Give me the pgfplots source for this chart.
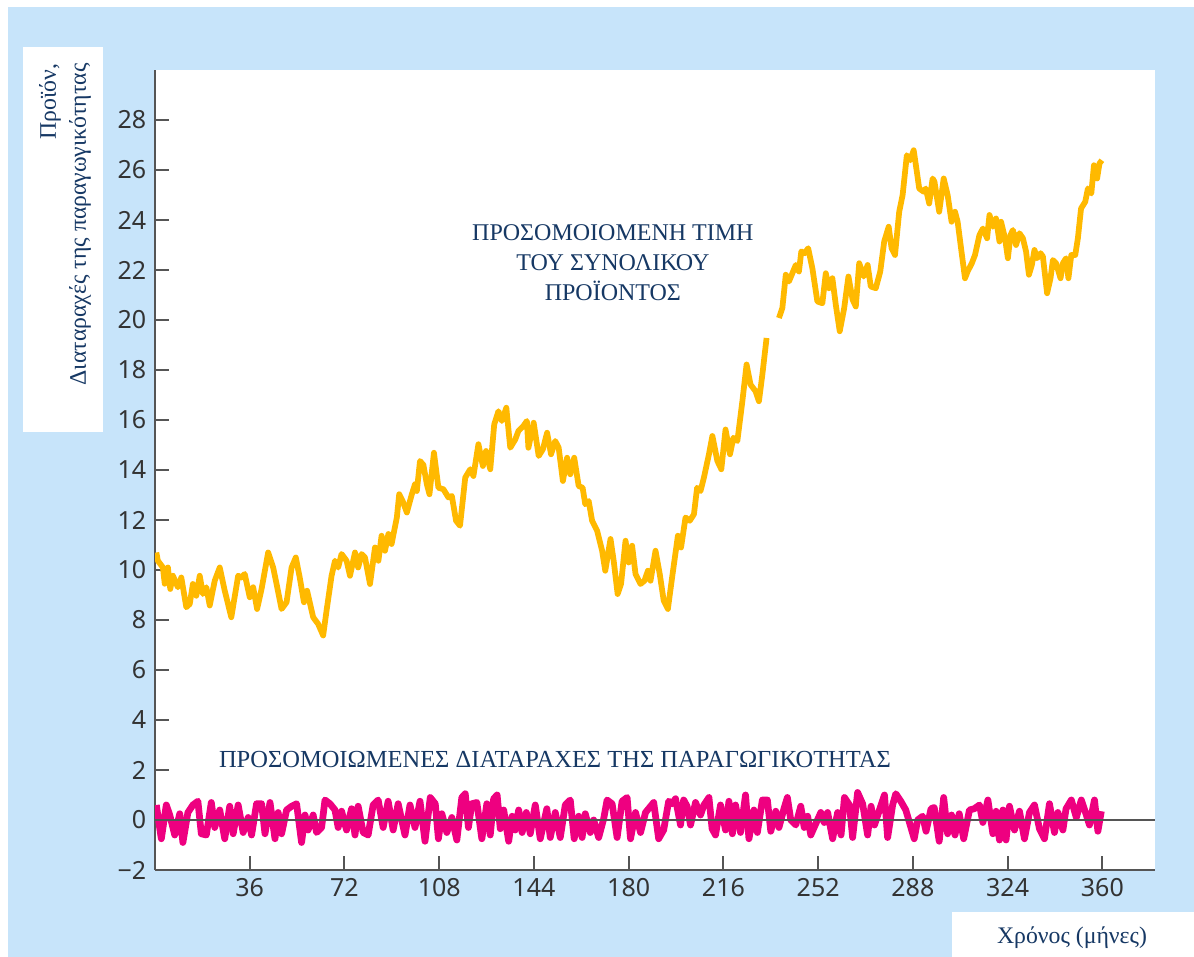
\documentclass[border=0pt]{standalone}
\usepackage{pgfplots}
\pgfplotsset{compat=1.18}
\usepackage{fontspec}
\setmainfont{Liberation Serif}
\newfontfamily\ticksans{Noto Sans}
\definecolor{bgblue}{RGB}{199,228,250}
\definecolor{txtblue}{RGB}{22,56,100}
\definecolor{prodorange}{RGB}{255,185,0}
\definecolor{shockpink}{RGB}{238,0,128}
\definecolor{axisgray}{RGB}{85,85,85}

\begin{document}
\begin{tikzpicture}
\useasboundingbox (0,0) rectangle (477.6pt,382.8pt);
\fill[white] (0,0) rectangle (477.6pt,382.8pt);
\fill[bgblue] (3.2pt,0) rectangle (477.6pt,380pt);
% label boxes
\fill[white] (9.2pt,210pt) rectangle (41.2pt,364pt);
\fill[white] (380.8pt,0) rectangle (477.6pt,18pt);
\node[rotate=90, align=right, text=txtblue, font=\fontsize{9.5}{12}\selectfont, inner sep=0pt]
  at (26pt,293pt) {Προϊόν,\\Διαταραχές της παραγωγικότητας};
\node[text=txtblue, font=\fontsize{9.5}{12}\selectfont, inner sep=0pt]
  at (428.8pt,7.6pt) {Χρόνος (μήνες)};

\begin{axis}[
  at={(62pt,34.8pt)}, anchor=south west,
  scale only axis, width=400pt, height=320pt,
  xmin=0, xmax=380, ymin=-2, ymax=30,
  axis lines*=left,
  axis line style={axisgray, line width=1pt},
  axis background/.style={fill=white},
  tick align=inside, major tick length=5.6pt,
  tick style={axisgray, line width=0.8pt},
  xtick={36,72,108,144,180,216,252,288,324,360},
  xticklabels={36,72,108,144,180,216,252,288,324,360},
  ytick={-2,0,2,4,6,8,10,12,14,16,18,20,22,24,26,28},
  yticklabels={−2,0,2,4,6,8,10,12,14,16,18,20,22,24,26,28},
  ticklabel style={font=\ticksans\fontsize{10}{12}\selectfont, text=black!80},
  unbounded coords=jump,
]
% simulated productivity shocks
\addplot[shockpink, line width=2.7pt, line join=round] coordinates {
(0.5,0.6)(2.4,-0.75)(4.3,0.6)(5.6,0.2)(7.5,-0.6)(9.4,0.25)(10.6,-0.9)(12.5,0.3)(14.4,0.6)(16.3,0.75)
(17.6,-0.55)(19.5,-0.6)(21.4,0.7)(22.7,-0.3)(24.6,0.4)(26.5,-0.75)(28.4,0.55)(29.7,-0.55)(31.6,0.6)(33.5,-0.5)
(35.4,0.1)(36.7,-0.6)(38.6,0.65)(40.5,0.65)(41.8,-0.55)(43.7,0.7)(45.6,-0.75)(46.8,0.3)(48.1,-0.55)(50,0.4)
(51.9,0.55)(53.8,0.65)(55.7,-0.9)(57,0.2)(58.2,-0.4)(60.1,0.2)(61.4,-0.5)(63.3,-0.3)(64.6,0.8)(66.5,0.65)
(68.4,0.4)(69.6,-0.3)(70.9,0.35)(72.8,-0.4)(74.7,0.45)(76,-0.6)(77.2,0.55)(79.1,-0.5)(81,-0.6)(82.9,0.6)
(84.8,0.8)(86.7,-0.3)(88.6,0.75)(90.5,-0.4)(92.4,0.65)(95,-0.6)(96.9,0.6)(98.8,-0.3)(100.7,0.75)(102.6,-0.85)
(104.6,0.9)(106.5,0.65)(107.7,-0.75)(109,0.25)(110.9,-0.5)(112.8,0.1)(114.7,-0.8)(116.6,0.9)(117.9,1.05)(119.1,-0.3)
(120.4,0.65)(122.3,0.7)(124.2,-0.75)(126.1,0.65)(127.4,-0.6)(128.7,0.85)(130,1.0)(131.2,-0.35)(132.5,0.4)(134.4,-0.85)
(135.7,0.15)(136.9,-0.4)(138.2,0.4)(139.5,-0.5)(141.1,0.3)(142.6,-0.55)(144.5,0.6)(146.4,-0.75)(148.9,0.45)(150.2,-0.7)
(152.1,0.3)(154,-0.7)(155.9,0.6)(157.8,0.8)(159.3,-0.75)(161,0.15)(162.3,-0.7)(163.5,0.25)(165.4,-0.5)(166.7,0.0)
(168.6,-0.7)(170.5,0.05)(171.8,0.8)(173.7,0.65)(175.6,-0.7)(177.5,0.75)(179.4,0.9)(180.7,-0.75)(182.6,0.3)(184.5,-0.5)
(186.4,0.3)(189.5,0.7)(191.4,-0.75)(193.3,-0.4)(195.2,0.75)(196.5,0.65)(197.8,0.85)(199.7,-0.2)(200.9,0.8)(202.2,0.55)
(203.5,-0.2)(205.4,0.7)(207.3,0.2)(208.6,0.6)(210.5,0.9)(211.7,-0.35)(213,-0.6)(214.9,0.6)(216.8,-0.4)(218.1,0.75)
(219.4,-0.55)(220.6,0.6)(222.5,-0.5)(224.4,1.0)(225.7,-0.75)(227.6,0.4)(228.9,-0.5)(230.8,0.8)(232.7,0.8)(234,-0.45)
(235.9,0.35)(237.1,-0.3)(239,0.45)(240.3,0.9)(241.6,0.0)(243.5,-0.2)(245.4,0.55)(246.7,-0.3)(248,0.15)(249.2,-0.6)
(251.1,-0.15)(253,0.3)(254.3,-0.1)(255.6,0.3)(257.5,-0.75)(259.4,0.3)(260.7,-0.6)(262,0.9)(263.9,0.6)(265.1,-0.7)
(267,1.1)(268.9,0.65)(270.8,-0.6)(272.1,0.55)(273.4,-0.2)(275.3,0.4)(277.2,1.0)(278.4,-0.7)(280.3,0.6)(281.5,1.05)
(283.4,0.75)(285.3,0.4)(288.5,-0.75)(289.8,0.0)(291.7,0.15)(293,-0.45)(294.9,0.45)(296.1,0.5)(298,-0.85)(299.7,0.9)
(301.2,-0.55)(302.7,0.2)(304,-0.6)(305.6,0.25)(307.3,-0.75)(309.5,0.4)(311.3,0.45)(313.3,0.6)(314.6,-0.1)(316.5,0.8)
(318.4,-0.55)(319.6,0.35)(320.9,-0.8)(322.2,0.4)(323.4,-0.8)(324.7,0.55)(326.6,-0.4)(328.5,0.35)(330.4,-0.75)(332.3,0.3)
(334.2,0.6)(336.1,-0.35)(338,-0.75)(339.9,0.65)(341.8,-0.5)(343.1,0.3)(345,-0.4)(346.2,0.45)(348.2,0.8)(350.1,0.1)
(352,0.8)(353.9,0.2)(355.1,-0.2)(357,0.8)(358.3,-0.45)(359.6,0.35)
};
% zero line
\addplot[axisgray, line width=0.8pt] coordinates {(0,0) (380,0)};
% simulated output
\addplot[prodorange, line width=2.3pt, line join=round] coordinates {
(0.5,10.70)(1.1,10.37)(3,10.1)(3.7,9.45)(4.9,10.1)(5.8,9.24)(6.8,9.77)(8.7,9.31)(10,9.7)(11.9,8.51)
(13.2,8.64)(14.4,9.44)(15.7,8.97)(17,9.77)(18.2,9.04)(19.5,9.31)(20.8,8.58)(22.7,9.57)(24.6,10.1)(26.5,9.17)
(29,8.11)(31.6,9.77)(32.8,9.7)(34.1,9.84)(36,8.91)(37.3,9.31)(38.8,8.44)(40.5,9.24)(43,10.7)(44.9,10.1)
(46.2,9.44)(48.1,8.44)(50,8.71)(51.9,10.1)(53.5,10.5)(55,9.7)(56.6,8.71)(57.8,9.17)(60.1,8.11)(62,7.84)
(63.9,7.38)(65.2,8.38)(67.1,9.77)(68.4,10.37)(69.6,10.1)(70.9,10.64)(72.8,10.37)(74.1,9.77)(76,10.7)(77.2,10.1)
(78.5,10.64)(79.8,10.5)(81.7,9.44)(83.6,10.9)(84.9,10.37)(86.1,11.37)(87.4,10.77)(88.7,11.44)(89.9,11.04)(91.9,12.1)
(92.8,13.03)(94.1,12.76)(95.7,12.3)(97.6,13.03)(98.8,13.43)(99.5,13.16)(100.7,14.36)(102,14.2)(103.3,13.43)(104.3,13.03)
(106,14.69)(107.7,13.29)(109.6,13.23)(111.5,12.9)(112.8,12.96)(114.4,11.97)(115.9,11.77)(117.9,13.7)(119.8,14.03)(121,13.76)
(122.9,15.03)(124.6,14.16)(125.8,14.76)(127.4,14.03)(128.9,15.82)(130.5,16.35)(131.8,15.96)(133.5,16.49)(135,14.89)(136.9,15.22)
(138.1,15.56)(140,15.76)(141.3,15.96)(141.9,14.89)(143.9,15.89)(145.8,14.56)(147.4,14.83)(149,15.49)(150.5,14.63)(152.1,15.16)
(153.4,14.89)(155,13.56)(156.6,14.49)(157.8,13.83)(159.3,14.49)(161,13.36)(162.5,13.29)(163.5,12.63)(164.8,12.76)(166.1,11.97)
(168,11.57)(169.9,10.77)(171.1,9.97)(173.1,11.24)(174.3,10.37)(175.8,9.04)(177.1,9.44)(178.8,11.17)(180,10.3)(181.3,10.97)
(182.6,9.84)(184.5,9.44)(186,9.57)(187.3,9.97)(188.3,9.57)(190.2,10.77)(191.8,9.84)(193.3,8.78)(194.9,8.44)(196.5,9.7)
(198.7,11.37)(199.9,10.9)(201.6,12.1)(203.2,11.97)(204.8,12.23)(206,13.29)(207.3,13.16)(208.6,13.7)(210.5,14.63)(211.8,15.36)
(213.7,14.36)(215.2,14.03)(216.8,15.62)(218.5,14.63)(219.8,15.29)(221.3,15.16)(223.2,16.75)(224.8,18.22)(226.3,17.42)(228.2,17.15)
(229.5,16.75)(230.8,17.82)(232.4,19.28)(234,nan)
(237.1,20.08)(238.4,20.48)(239.7,21.81)(240.9,21.54)(242.2,21.87)(243.5,22.2)(244.7,21.94)(245.6,22.74)(246.9,22.67)(248.2,22.87)
(249.8,22.07)(251.7,20.74)(253.6,20.67)(254.9,21.87)(256.1,21.27)(257.4,21.67)(258.7,20.61)(260.2,19.55)(261.9,20.48)(263.5,21.74)
(265.1,20.81)(266.3,20.54)(267.6,22.27)(269.3,21.74)(270.8,22.2)(272,21.34)(273.9,21.27)(275.6,21.94)(277.1,23.14)(278.8,23.73)
(279.9,22.87)(281.2,22.6)(282.8,24.33)(284.1,25.0)(285.7,26.59)(287,26.39)(288.3,26.79)(289.5,25.93)(290.4,25.26)(292.1,25.13)
(292.9,25.26)(294.2,24.66)(295.5,25.66)(296.2,25.53)(298,24.33)(299.7,25.66)(301.2,25.0)(302.7,23.93)(304,24.33)(305,23.93)
(306.3,22.87)(307.8,21.67)(308.8,21.94)(310.4,22.27)(311.6,22.6)(313.3,23.4)(314.6,23.66)(316.2,23.27)(317.1,24.2)(318.4,23.73)
(319.6,24.06)(320.9,23.14)(321.5,23.93)(323,23.27)(324.1,22.47)(325.1,23.4)(326,23.6)(327.2,23.0)(328.5,23.47)(329.8,23.27)
(331,22.74)(332.1,21.81)(333.2,22.2)(334.2,22.8)(335.2,22.47)(336.5,22.67)(337.4,22.54)(339,21.07)(340.3,21.67)(341.2,22.4)
(342.4,22.27)(344.1,21.67)(345,22.27)(346.2,22.47)(347.1,21.67)(348.2,22.6)(349.7,22.6)(350.7,23.27)(351.9,24.46)(353.5,24.73)
(354.5,25.26)(355.8,25.06)(356.8,26.19)(358,25.66)(358.9,26.26)(359.8,26.39)
};
\node[text=txtblue, align=center, font=\fontsize{9.6}{12}\selectfont]
  at (axis cs:174,22.3) {ΠΡΟΣΟΜΟΙΟΜΕΝΗ ΤΙΜΗ\\ΤΟΥ ΣΥΝΟΛΙΚΟΥ\\ΠΡΟΪΟΝΤΟΣ};
\node[text=txtblue, font=\fontsize{9.8}{12}\selectfont]
  at (axis cs:152,2.4) {ΠΡΟΣΟΜΟΙΩΜΕΝΕΣ ΔΙΑΤΑΡΑΧΕΣ ΤΗΣ ΠΑΡΑΓΩΓΙΚΟΤΗΤΑΣ};
\end{axis}
\end{tikzpicture}
\end{document}
